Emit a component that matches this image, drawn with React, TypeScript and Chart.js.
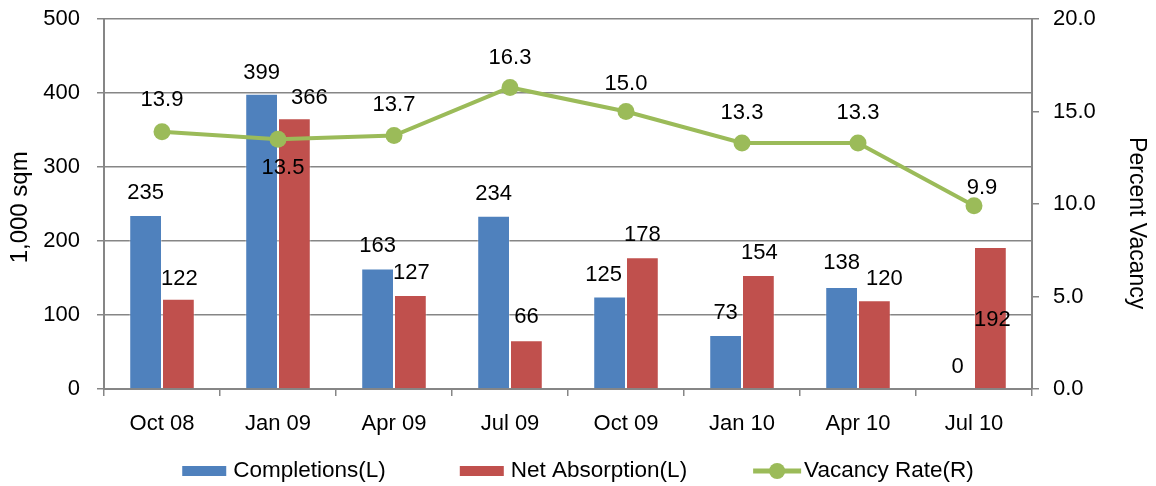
import React, { useEffect, useRef } from "react";
import { Chart, registerables } from "chart.js";

Chart.register(...registerables);

const categories = ["Oct 08", "Jan 09", "Apr 09", "Jul 09", "Oct 09", "Jan 10", "Apr 10", "Jul 10"];
const completions = [235, 399, 163, 234, 125, 73, 138, 0];
const netAbsorption = [122, 366, 127, 66, 178, 154, 120, 192];
const vacancyRate = [13.9, 13.5, 13.7, 16.3, 15.0, 13.3, 13.3, 9.9];
const leftTickStep = 100;
const leftMax = 500;
const rightTickStep = 5;
const rightMax = 20;

// small nudges (px) for data labels, relative to the default placement
const completionsLabelNudge = [[0, 0], [0, 1], [0, 0], [0, 0], [-6, 0], [0, 0], [0, -2], [0, 0]];
const netAbsorptionLabelNudge = [[1, 2], [15, 2], [1, 0], [0, -1], [0, 0], [1, 0], [10, 1], [2, 95]];
const vacancyLabelNudge = [[0, -1], [5, 60], [0, 0], [0, 1], [0, 3], [0, 1], [0, 1], [8, 13]];

const FONT = '"Liberation Sans", Arial, sans-serif';
const GRID = "#868686";
const BLUE = "#4F81BD";
const RED = "#C0504D";
const GREEN = "#9BBB59";

const labelPlugin = {
  id: "valueLabels",
  afterDatasetsDraw(chart: any) {
    const ctx = chart.ctx;
    ctx.save();
    ctx.font = `22px ${FONT}`;
    ctx.fillStyle = "#000";
    ctx.textAlign = "center";
    ctx.textBaseline = "middle";
    chart.data.datasets.forEach((ds: any, di: number) => {
      const meta = chart.getDatasetMeta(di);
      const nudges = ds.labelNudge || [];
      meta.data.forEach((el: any, i: number) => {
        const v = ds.data[i];
        const isLine = ds.type === "line";
        const text = isLine ? Number(v).toFixed(1) : String(v);
        const n = nudges[i] || [0, 0];
        const base = isLine ? -31 : -22;
        ctx.fillText(text, el.x + n[0], el.y + base + n[1]);
      });
    });
    ctx.restore();
  },
};

const legendPlugin = {
  id: "customLegend",
  afterDraw(chart: any) {
    const ctx = chart.ctx;
    ctx.save();
    ctx.font = `22.5px ${FONT}`;
    const swatchW = 44;
    const gap = 7;
    const itemGaps = [74, 66];
    const items = chart.data.datasets.map((ds: any) => ({
      text: ds.label,
      isLine: ds.type === "line",
      color: ds.type === "line" ? ds.borderColor : ds.backgroundColor,
    }));
    const widths = items.map((it: any) => swatchW + gap + ctx.measureText(it.text).width);
    const total =
      widths.reduce((a: number, b: number) => a + b, 0) +
      itemGaps.slice(0, items.length - 1).reduce((a, b) => a + b, 0);
    let x = chart.width / 2 - total / 2;
    const y = chart.chartArea.bottom + 82;
    items.forEach((it: any, i: number) => {
      if (it.isLine) {
        ctx.strokeStyle = it.color;
        ctx.lineWidth = 5;
        ctx.beginPath();
        ctx.moveTo(x, y);
        ctx.lineTo(x + swatchW + 4, y);
        ctx.stroke();
        ctx.fillStyle = it.color;
        ctx.beginPath();
        ctx.arc(x + swatchW / 2 + 2, y, 8, 0, Math.PI * 2);
        ctx.fill();
      } else {
        ctx.fillStyle = it.color;
        ctx.fillRect(x, y - 5, swatchW, 10);
      }
      ctx.fillStyle = "#000";
      ctx.textAlign = "left";
      ctx.textBaseline = "middle";
      ctx.fillText(it.text, x + swatchW + gap, y);
      x += widths[i] + (itemGaps[i] || 0);
    });
    ctx.restore();
  },
};

export default function App() {
  const ref = useRef<HTMLCanvasElement | null>(null);

  useEffect(() => {
    if (!ref.current) return;
    const chart = new Chart(ref.current, {
      type: "bar",
      data: {
        labels: categories,
        datasets: [
          {
            type: "bar",
            label: "Completions(L)",
            data: completions,
            backgroundColor: BLUE,
            borderColor: "rgba(255,255,255,0.35)",
            borderWidth: 1,
            yAxisID: "y",
            order: 2,
            categoryPercentage: 0.565,
            barPercentage: 1,
            labelNudge: completionsLabelNudge,
          } as any,
          {
            type: "bar",
            label: "Net Absorption(L)",
            data: netAbsorption,
            backgroundColor: RED,
            borderColor: "rgba(255,255,255,0.35)",
            borderWidth: 1,
            yAxisID: "y",
            order: 2,
            categoryPercentage: 0.565,
            barPercentage: 1,
            labelNudge: netAbsorptionLabelNudge,
          } as any,
          {
            type: "line",
            label: "Vacancy Rate(R)",
            data: vacancyRate,
            borderColor: GREEN,
            backgroundColor: GREEN,
            borderWidth: 4,
            pointRadius: 8.5,
            pointHoverRadius: 8.5,
            pointBackgroundColor: GREEN,
            pointBorderWidth: 0,
            tension: 0,
            yAxisID: "y1",
            order: 1,
            labelNudge: vacancyLabelNudge,
          } as any,
        ],
      },
      options: {
        animation: false,
        responsive: true,
        maintainAspectRatio: false,
        layout: { autoPadding: false, padding: { top: 11, bottom: 42, left: 0, right: 0 } },
        plugins: {
          legend: { display: false },
          tooltip: { enabled: false },
        },
        scales: {
          x: {
            grid: {
              display: true,
              drawOnChartArea: false,
              drawTicks: true,
              tickLength: 7,
              color: GRID,
              lineWidth: 1.5,
              offset: true,
            },
            border: { display: true, color: GRID, width: 2 },
            ticks: {
              color: "#000",
              padding: 17,
              font: { family: FONT, size: 22, lineHeight: 1 },
              maxRotation: 0,
              autoSkip: false,
            },
            afterFit: (scale: any) => {
              scale.height = 55;
            },
          },
          y: {
            position: "left",
            min: 0,
            max: leftMax,
            grid: {
              color: GRID,
              lineWidth: 1.5,
              drawTicks: true,
              tickLength: 7,
            },
            border: { display: true, color: GRID, width: 2 },
            ticks: {
              stepSize: leftTickStep,
              color: "#000",
              padding: 17,
              font: { family: FONT, size: 22, lineHeight: 1 },
            },
            title: {
              display: true,
              text: "1,000 sqm ",
              color: "#000",
              font: { family: FONT, size: 24, lineHeight: 1 },
              padding: { top: 0, bottom: 0 },
            },
            afterFit: (scale: any) => {
              scale.width = 96;
              scale.paddingTop = 0;
              scale.paddingBottom = 0;
            },
          },
          y1: {
            position: "right",
            min: 0,
            max: rightMax,
            grid: {
              drawOnChartArea: false,
              drawTicks: true,
              tickLength: 7,
              color: GRID,
              lineWidth: 1.5,
            },
            border: { display: true, color: GRID, width: 2 },
            ticks: {
              stepSize: rightTickStep,
              color: "#000",
              padding: 14,
              font: { family: FONT, size: 22, lineHeight: 1 },
              callback: (v: any) => Number(v).toFixed(1),
            },
            title: {
              display: true,
              text: "      Percent Vacancy",
              color: "#000",
              font: { family: FONT, size: 23, lineHeight: 1 },
              padding: { top: 0, bottom: 0 },
            },
            afterFit: (scale: any) => {
              scale.width = 116;
              scale.paddingTop = 0;
              scale.paddingBottom = 0;
            },
          },
        },
      },
      plugins: [labelPlugin, legendPlugin],
    });
    return () => chart.destroy();
  }, []);

  return (
    <div style={{ position: "absolute", left: 8, top: 8, width: 1140, height: 478 }}>
      <canvas ref={ref} />
    </div>
  );
}
